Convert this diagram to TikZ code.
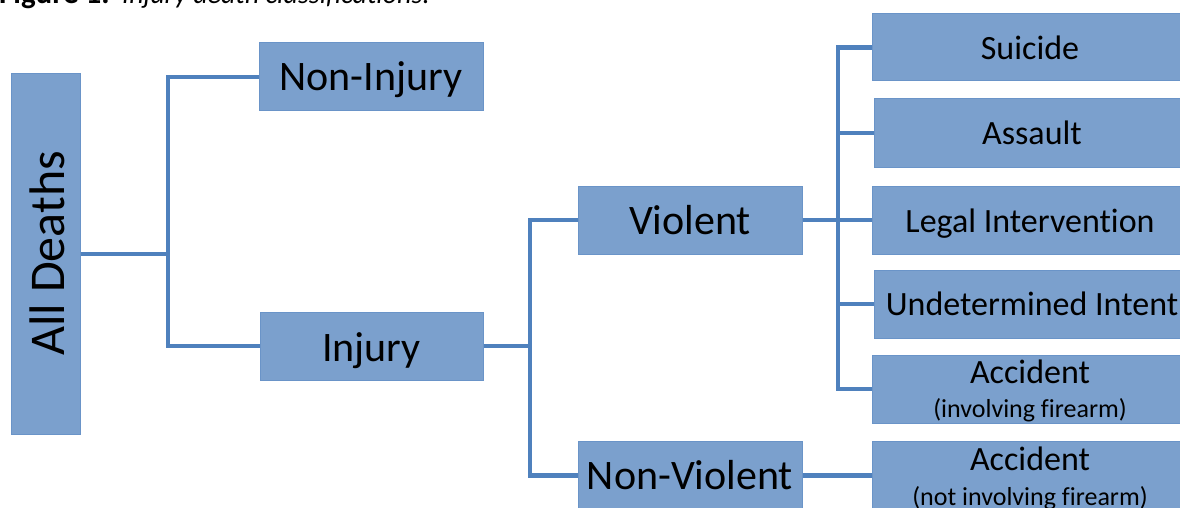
\documentclass[tikz,border=0pt]{standalone}
\usepackage{fontspec}
\setmainfont[Ligatures=NoCommon]{Carlito}
\definecolor{boxfill}{HTML}{7BA0CD}
\definecolor{boxline}{HTML}{6A94C8}
\definecolor{conncol}{HTML}{4F81BD}
\tikzset{
  box/.style={draw=boxline, line width=1pt, fill=boxfill, inner sep=0pt, rectangle},
  conn/.style={draw=conncol, line width=4.4pt},
  lbl/.style={inner sep=0pt, anchor=base, text=black},
  big/.style={lbl, font=\fontsize{42}{48}\selectfont},
  mid/.style={lbl, font=\fontsize{34}{40}\selectfont},
  small/.style={lbl, font=\fontsize{26}{30}\selectfont},
}
\begin{document}
\begin{tikzpicture}[x=1pt,y=-1pt]
\useasboundingbox (0,0) rectangle (1180,508);
\clip (0,0) rectangle (1180,508);
\fill[white] (0,0) rectangle (1180,508);

% caption (cut at top)
\node[lbl, anchor=base west, font=\fontsize{31}{36}\selectfont\bfseries] (capa) at (-1,4) {Figure 1.};
\node[lbl, anchor=base west, font=\fontsize{28}{34}\selectfont\itshape] (capb) at (122,4) {Injury death classifications.};

% boxes
\node[box, minimum width=69pt, minimum height=360pt] (alld) at (45.5,254) {};
\node[box, minimum width=224pt, minimum height=68pt] (noninj) at (371,77) {};
\node[box, minimum width=223pt, minimum height=68pt] (inj) at (371.5,346) {};
\node[box, minimum width=224pt, minimum height=68pt] (viol) at (690,220) {};
\node[box, minimum width=224pt, minimum height=69pt] (nonviol) at (690,475.5) {};
\node[box, minimum width=316pt, minimum height=67pt] (suic) at (1030,47.5) {};
\node[box, minimum width=314pt, minimum height=68pt] (assa) at (1031,133) {};
\node[box, minimum width=316pt, minimum height=68pt] (legal) at (1030,220) {};
\node[box, minimum width=314pt, minimum height=68pt] (undet) at (1031,304) {};
\node[box, minimum width=316pt, minimum height=68pt] (acca) at (1030,389) {};
\node[box, minimum width=316pt, minimum height=69pt] (accb) at (1030,475.5) {};

% labels
\node[lbl, rotate=90, font=\fontsize{50}{56}\selectfont] (alldt) at (64,253.5) {All Deaths};
\node[big] (noninjt) at (371,91) {Non-Injury};
\node[big] (injt) at (371.5,361) {Injury};
\node[big] (violt) at (690,234) {Violent};
\node[big] (nonviolt) at (690,489) {Non-Violent};
\node[mid] (suict) at (1030,59.5) {Suicide};
\node[mid] (assat) at (1032,145) {Assault};
\node[mid] (legalt) at (1030,232) {Legal Intervention};
\node[mid] (undett) at (1032,315) {Undetermined Intent};
\node[mid] (accat) at (1030,383.5) {Accident};
\node[small] (accas) at (1030,417) {(involving firearm)};
\node[mid] (accbt) at (1030,470) {Accident};
\node[small] (accbs) at (1030,505) {(not involving firearm)};

% junctions
\coordinate (j1) at (168,254);
\coordinate (j2) at (530,346);
\coordinate (j3) at (838,220);

% connectors
\draw[conn] (alld.east) -- (j1);
\draw[conn] (noninj.west) -| (j1);
\draw[conn] (inj.west) -| (j1);
\draw[conn] (inj.east) -- (j2);
\draw[conn] (viol.west) -| (j2);
\draw[conn] (nonviol.west) -| (j2);
\draw[conn] (viol.east) -- (j3);
\draw[conn] (suic.west) -| (j3);
\draw[conn] (assa.west) -| (j3);
\draw[conn] (legal.west) -- (j3);
\draw[conn] (undet.west) -| (j3);
\draw[conn] (acca.west) -| (j3);
\draw[conn] (nonviol.east) -- (accb.west);
\end{tikzpicture}
\end{document}
